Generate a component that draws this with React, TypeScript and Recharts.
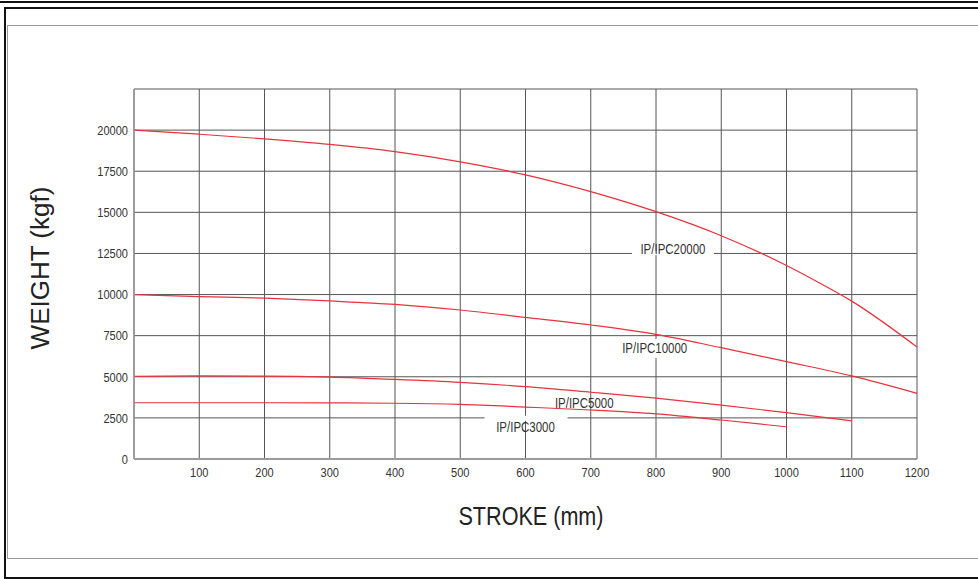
import { LineChart, Line, XAxis, YAxis, CartesianGrid, ReferenceDot } from "recharts";

const strokeTicks = [0, 100, 200, 300, 400, 500, 600, 700, 800, 900, 1000, 1100, 1200];
const weightTicks = [0, 2500, 5000, 7500, 10000, 12500, 15000, 17500, 20000, 22500];

const ipc20000 = [
	{ s: 0, w: 20000 },
	{ s: 100, w: 19750 },
	{ s: 200, w: 19470 },
	{ s: 300, w: 19130 },
	{ s: 400, w: 18690 },
	{ s: 500, w: 18070 },
	{ s: 600, w: 17280 },
	{ s: 700, w: 16260 },
	{ s: 800, w: 15040 },
	{ s: 900, w: 13580 },
	{ s: 1000, w: 11770 },
	{ s: 1050, w: 10720 },
	{ s: 1100, w: 9600 },
	{ s: 1200, w: 6810 },
];

const ipc10000 = [
	{ s: 0, w: 10000 },
	{ s: 100, w: 9880 },
	{ s: 200, w: 9780 },
	{ s: 300, w: 9610 },
	{ s: 400, w: 9400 },
	{ s: 500, w: 9060 },
	{ s: 600, w: 8610 },
	{ s: 700, w: 8150 },
	{ s: 800, w: 7580 },
	{ s: 900, w: 6770 },
	{ s: 1000, w: 5920 },
	{ s: 1100, w: 5050 },
	{ s: 1200, w: 3990 },
];

const ipc5000 = [
	{ s: 0, w: 5030 },
	{ s: 100, w: 5050 },
	{ s: 200, w: 5040 },
	{ s: 300, w: 4980 },
	{ s: 400, w: 4840 },
	{ s: 500, w: 4660 },
	{ s: 600, w: 4400 },
	{ s: 700, w: 4060 },
	{ s: 800, w: 3700 },
	{ s: 900, w: 3280 },
	{ s: 1000, w: 2820 },
	{ s: 1100, w: 2320 },
];

const ipc3000 = [
	{ s: 0, w: 3420 },
	{ s: 100, w: 3420 },
	{ s: 200, w: 3420 },
	{ s: 300, w: 3410 },
	{ s: 400, w: 3390 },
	{ s: 500, w: 3320 },
	{ s: 600, w: 3160 },
	{ s: 700, w: 2980 },
	{ s: 800, w: 2740 },
	{ s: 900, w: 2370 },
	{ s: 1000, w: 1960 },
];

// curve names, where they sit, and the bit of grid they blank out
const curveLabels = [
	{ text: "IP/IPC20000", s: 826, w: 12766, gap: { dx: -41, dy: 2, w: 82, h: 4 } },
	{ text: "IP/IPC10000", s: 798, w: 6748, gap: { dx: -1, dy: -9, w: 5, h: 19 } },
	{ text: "IP/IPC5000", s: 690, w: 3420, gap: null },
	{ text: "IP/IPC3000", s: 600, w: 1963, gap: { dx: -41, dy: -11, w: 83, h: 5 } },
];

const FONT = '"Liberation Sans", Arial, sans-serif';
const RED = "#e8323c";
const SQUEEZE = 0.82;

function CurveLabel({ cx, cy, text, gap }: any) {
	return (
		<g>
			{gap && <rect x={cx + gap.dx} y={cy + gap.dy} width={gap.w} height={gap.h} fill="#fff" />}
			<g transform={`translate(${cx},${cy})`}>
				<text transform={`scale(${SQUEEZE},1)`} textAnchor="middle" dominantBaseline="central" fontFamily={FONT} fontSize={14} fill="#333">
					{text}
				</text>
			</g>
		</g>
	);
}

function StrokeTick({ x, y, payload }: any) {
	if (payload.value === 0) return null;
	return (
		<g transform={`translate(${x},${y})`}>
			<text transform={`scale(${SQUEEZE},1)`} textAnchor="middle" dy="0.71em" fontFamily={FONT} fontSize={13.5} fill="#333">
				{payload.value}
			</text>
		</g>
	);
}

function WeightTick({ x, y, payload }: any) {
	if (payload.value === 22500) return null;
	return (
		<g transform={`translate(${x},${y})`}>
			<text transform={`scale(${SQUEEZE},1)`} textAnchor="end" dy="0.355em" fontFamily={FONT} fontSize={13.5} fill="#333">
				{payload.value}
			</text>
		</g>
	);
}

export default function App() {
	return (
		<div style={{ position: "absolute", left: 0, top: 0, width: 978, height: 579, background: "#fff", overflow: "hidden" }}>
			<div style={{ position: "absolute", left: 0, top: 1, width: 978, height: 2, background: "#111" }} />
			<div style={{ position: "absolute", left: 4, top: 7, width: 990, height: 568, borderLeft: "2px solid #111", borderTop: "2px solid #111", borderBottom: "2px solid #111" }} />
			<div style={{ position: "absolute", left: 7, top: 25, width: 990, height: 532, borderLeft: "1px solid #999", borderTop: "1px solid #999", borderBottom: "1px solid #999" }} />

			<div style={{ position: "absolute", left: 0, top: 0 }}>
				<LineChart width={978} height={579} margin={{ top: 89, right: 61, left: 74, bottom: 90 }}>
					<CartesianGrid stroke="#555" strokeWidth={1} />
					<XAxis
						type="number"
						dataKey="s"
						domain={[0, 1200]}
						ticks={strokeTicks}
						height={30}
						tickLine={false}
						tickSize={6}
						tickMargin={2}
						axisLine={{ stroke: "#9a9a9a", strokeWidth: 2 }}
						tick={<StrokeTick />}
					/>
					<YAxis
						type="number"
						dataKey="w"
						domain={[0, 22500]}
						ticks={weightTicks}
						width={60}
						tickLine={false}
						tickSize={4}
						tickMargin={2}
						axisLine={{ stroke: "#9a9a9a", strokeWidth: 1.5 }}
						tick={<WeightTick />}
					/>
					<Line data={ipc20000} dataKey="w" type="monotone" stroke={RED} strokeWidth={1.2} dot={false} isAnimationActive={false} />
					<Line data={ipc10000} dataKey="w" type="monotone" stroke={RED} strokeWidth={1.2} dot={false} isAnimationActive={false} />
					<Line data={ipc5000} dataKey="w" type="monotone" stroke={RED} strokeWidth={1.2} dot={false} isAnimationActive={false} />
					<Line data={ipc3000} dataKey="w" type="monotone" stroke={RED} strokeWidth={1.2} dot={false} isAnimationActive={false} />
					{curveLabels.map((l) => (
						<ReferenceDot
							key={l.text}
							x={l.s}
							y={l.w}
							r={0}
							shape={(p: any) => <CurveLabel cx={p.cx} cy={p.cy} text={l.text} gap={l.gap} />}
						/>
					))}
				</LineChart>
			</div>

			<div style={{ position: "absolute", left: 531, top: 516, transform: "translate(-50%, -50%) scaleX(0.83)", fontFamily: FONT, fontSize: 26, color: "#222", whiteSpace: "nowrap" }}>
				STROKE (mm)
			</div>
			<div style={{ position: "absolute", left: 40, top: 268, transform: "translate(-50%, -50%) rotate(-90deg)", fontFamily: FONT, fontSize: 26, color: "#222", whiteSpace: "nowrap" }}>
				WEIGHT (kgf)
			</div>
		</div>
	);
}
